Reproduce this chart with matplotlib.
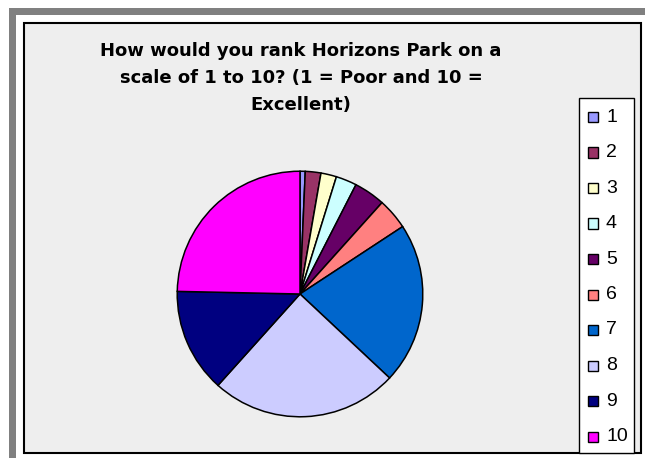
import matplotlib
matplotlib.use("Agg")
import matplotlib.pyplot as plt
from matplotlib.patches import Rectangle

categories = ["1", "2", "3", "4", "5", "6", "7", "8", "9", "10"]
counts = [1, 3, 3, 4, 6, 6, 31, 36, 20, 36]
colors = ["#9999FF", "#993366", "#FFFFCC", "#CCFFFF", "#660066",
          "#FF8080", "#0066CC", "#CCCCFF", "#000080", "#FF00FF"]
title = "How would you rank Horizons Park on a\nscale of 1 to 10? (1 = Poor and 10 =\nExcellent)"

W, H = 645, 458
fig = plt.figure(figsize=(W / 100, H / 100), dpi=100)
fig.patch.set_facecolor("white")

def fx(x):
    return x / W

def fy(y):
    return 1 - y / H

def rect(x0, y0, x1, y1, **kw):
    fig.patches.append(Rectangle((fx(x0), fy(y1)), fx(x1) - fx(x0), fy(y0) - fy(y1),
                                 transform=fig.transFigure, figure=fig, **kw))

# gray frame bands
rect(9, 8, 645, 15, facecolor="#808080", edgecolor="none")
rect(9, 8, 16, 458, facecolor="#808080", edgecolor="none")
# chart area
rect(24, 23, 641, 453, facecolor="#EEEEEE", edgecolor="black", linewidth=1.5)

# title
fig.text(fx(301), fy(78), title, ha="center", va="center", fontsize=13,
         fontweight="bold", family="DejaVu Sans", linespacing=1.65)

# pie
cx, cy, r = 300, 294, 124
ax = fig.add_axes([fx(cx - r), fy(cy + r), (2 * r) / W, (2 * r) / H])
ax.set_zorder(5)
ax.patch.set_alpha(0)
ax.pie(counts, colors=colors, startangle=90, counterclock=False,
       wedgeprops=dict(edgecolor="black", linewidth=1.1))
ax.set_xlim(-1.01, 1.01)
ax.set_ylim(-1.01, 1.01)
ax.set_aspect("equal")
ax.axis("off")

# legend
rect(579, 98, 634, 453, facecolor="white", edgecolor="black", linewidth=1.0, zorder=3)
y0, dy = 117, 35.5
for i, (lab, col) in enumerate(zip(categories, colors)):
    y = y0 + i * dy
    rect(588, y - 5, 598, y + 5, facecolor=col, edgecolor="black", linewidth=1.0, zorder=4)
    fig.text(fx(606), fy(y), lab, ha="left", va="center", fontsize=14,
             family="Liberation Sans", zorder=5)

fig.savefig("out.png", dpi=100)
